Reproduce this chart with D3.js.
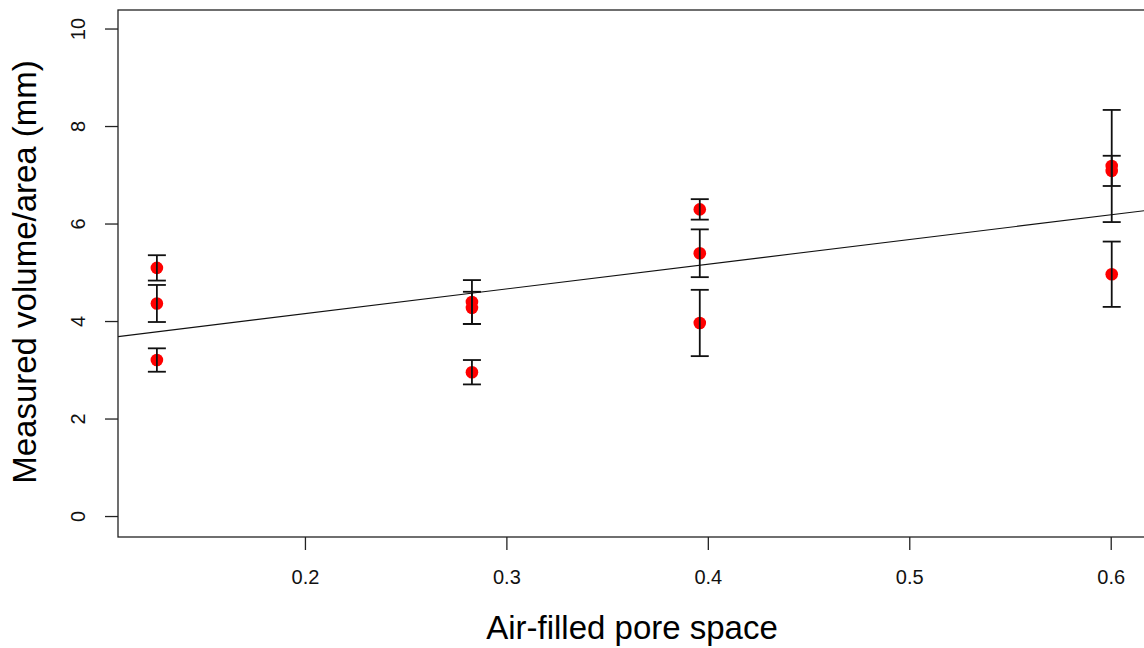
<!DOCTYPE html>
<html>
<head>
<meta charset="utf-8">
<script src="https://cdn.jsdelivr.net/npm/d3@7"></script>
<style>
  body { margin: 0; background: #fff; }
  svg { display: block; font-family: Arial, "Liberation Sans", sans-serif; }
</style>
</head>
<body>
<div id="chart"></div>
<script>
// measured volume/area vs air-filled pore space, mean +/- error
const airSpace = [0.1265, 0.1265, 0.1265, 0.2829, 0.2829, 0.2829, 0.396, 0.396, 0.396, 0.6005, 0.6005, 0.6005];
const volume = [5.09, 4.36, 3.20, 4.39, 4.27, 2.95, 6.29, 5.39, 3.96, 7.18, 7.08, 4.96];
const volumeErr = [0.26, 0.38, 0.24, 0.45, 0.33, 0.25, 0.21, 0.49, 0.68, 1.15, 0.31, 0.67];

// fitted line
const fitIntercept = 3.137;
const fitSlope = 5.07;

const xTicks = [0.2, 0.3, 0.4, 0.5, 0.6];
const yTicks = [0, 2, 4, 6, 8, 10];
const xTitle = 'Air-filled pore space';
const yTitle = 'Measured volume/area (mm)';

const width = 1144, height = 648;
const plot = {left: 118, right: 1150, top: 10, bottom: 537};

const svg = d3.select('#chart').append('svg')
  .attr('width', width)
  .attr('height', height);

const x = d3.scaleLinear().domain([0.1072, 0.6195]).range([plot.left, plot.right]);
const y = d3.scaleLinear().domain([-0.43, 10.38]).range([plot.bottom, plot.top]);

const data = airSpace.map((d, i) => ({x: d, y: volume[i], e: volumeErr[i]}));

// clip for the plotting region
svg.append('clipPath').attr('id', 'plotclip')
  .append('rect')
  .attr('x', plot.left).attr('y', plot.top)
  .attr('width', plot.right - plot.left).attr('height', plot.bottom - plot.top);

// axes
const xAxis = svg.append('g')
  .attr('transform', `translate(0,${plot.bottom})`)
  .call(d3.axisBottom(x).tickValues(xTicks).tickSize(13).tickPadding(20).tickFormat(d3.format('.1f')));
xAxis.select('.domain').remove();
xAxis.selectAll('line').attr('stroke', '#222').attr('stroke-width', 1.3);
xAxis.selectAll('text').attr('font-size', 20).attr('fill', '#111')
  .attr('font-family', 'Arial, "Liberation Sans", sans-serif');

const yAxis = svg.append('g')
  .attr('transform', `translate(${plot.left},0)`)
  .call(d3.axisLeft(y).tickValues(yTicks).tickSize(13).tickFormat(d3.format('d')));
yAxis.select('.domain').remove();
yAxis.selectAll('line').attr('stroke', '#222').attr('stroke-width', 1.3);
yAxis.selectAll('text')
  .attr('font-size', 20).attr('fill', '#111')
  .attr('font-family', 'Arial, "Liberation Sans", sans-serif')
  .attr('x', null)
  .attr('text-anchor', 'middle')
  .attr('transform', 'translate(-40,0) rotate(-90)')
  .attr('dy', '0.35em');

// points
const pts = svg.append('g').attr('clip-path', 'url(#plotclip)');
pts.selectAll('circle').data(data).enter()
  .append('circle')
  .attr('cx', d => x(d.x))
  .attr('cy', d => y(d.y))
  .attr('r', 6.3)
  .attr('fill', '#ff0000');

// error bars
const bars = svg.append('g').attr('clip-path', 'url(#plotclip)')
  .attr('stroke', '#111').attr('stroke-width', 1.8).attr('fill', 'none');
const barEnter = bars.selectAll('g').data(data).enter().append('g');
barEnter.append('line')
  .attr('x1', d => x(d.x)).attr('x2', d => x(d.x))
  .attr('y1', d => y(d.y + d.e)).attr('y2', d => y(d.y - d.e));
barEnter.append('line')
  .attr('x1', d => x(d.x) - 9).attr('x2', d => x(d.x) + 9)
  .attr('y1', d => y(d.y + d.e)).attr('y2', d => y(d.y + d.e));
barEnter.append('line')
  .attr('x1', d => x(d.x) - 9).attr('x2', d => x(d.x) + 9)
  .attr('y1', d => y(d.y - d.e)).attr('y2', d => y(d.y - d.e));

// regression line
const xd = x.domain();
svg.append('line')
  .attr('clip-path', 'url(#plotclip)')
  .attr('x1', x(xd[0])).attr('y1', y(fitIntercept + fitSlope * xd[0]))
  .attr('x2', x(xd[1])).attr('y2', y(fitIntercept + fitSlope * xd[1]))
  .attr('stroke', '#111').attr('stroke-width', 1.1);

// box
svg.append('rect')
  .attr('x', plot.left).attr('y', plot.top)
  .attr('width', plot.right - plot.left).attr('height', plot.bottom - plot.top)
  .attr('fill', 'none').attr('stroke', '#222').attr('stroke-width', 1.3);

// titles
svg.append('text')
  .attr('x', 632)
  .attr('y', 639)
  .attr('text-anchor', 'middle')
  .attr('font-size', 33)
  .attr('fill', '#000')
  .text(xTitle);

svg.append('text')
  .attr('transform', `translate(36,272) rotate(-90)`)
  .attr('text-anchor', 'middle')
  .attr('font-size', 33)
  .attr('fill', '#000')
  .text(yTitle);
</script>
</body>
</html>
